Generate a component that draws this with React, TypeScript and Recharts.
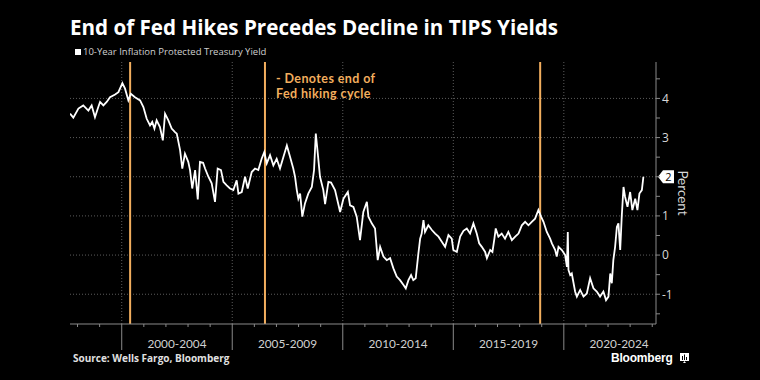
import React from 'react';
import { LineChart, Line, XAxis, YAxis, CartesianGrid, ReferenceLine } from 'recharts';

const years = [
  1997.66, 1997.81, 1998.04, 1998.26, 1998.49, 1998.64, 1998.79, 1998.94, 1999.02, 1999.17,
  1999.32, 1999.47, 1999.70, 1999.85, 2000.03, 2000.15, 2000.30, 2000.41, 2000.60, 2000.83,
  2000.98, 2001.13, 2001.28, 2001.38, 2001.48, 2001.58, 2001.73, 2001.86, 2001.96, 2002.11,
  2002.26, 2002.41, 2002.49, 2002.64, 2002.74, 2002.86, 2003.01, 2003.09, 2003.19, 2003.32,
  2003.44, 2003.54, 2003.68, 2003.77, 2003.92, 2004.07, 2004.22, 2004.34, 2004.49, 2004.60,
  2004.75, 2004.90, 2005.05, 2005.20, 2005.28, 2005.43, 2005.58, 2005.70, 2005.88, 2006.03,
  2006.18, 2006.33, 2006.45, 2006.56, 2006.71, 2006.86, 2007.01, 2007.16, 2007.31, 2007.47,
  2007.62, 2007.76, 2007.84, 2007.92, 2007.99, 2008.07, 2008.17, 2008.29, 2008.44, 2008.60,
  2008.70, 2008.78, 2008.87, 2008.97, 2009.12, 2009.20, 2009.35, 2009.47, 2009.65, 2009.88,
  2010.03, 2010.23, 2010.33, 2010.48, 2010.63, 2010.78, 2010.93, 2011.09, 2011.16, 2011.31,
  2011.46, 2011.58, 2011.69, 2011.84, 2011.99, 2012.14, 2012.29, 2012.44, 2012.59, 2012.74,
  2012.85, 2012.97, 2013.09, 2013.19, 2013.30, 2013.42, 2013.50, 2013.57, 2013.65, 2013.72,
  2013.87, 2014.03, 2014.18, 2014.33, 2014.48, 2014.63, 2014.78, 2014.93, 2015.00, 2015.16,
  2015.31, 2015.46, 2015.61, 2015.76, 2015.91, 2016.06, 2016.17, 2016.29, 2016.44, 2016.52,
  2016.67, 2016.77, 2016.86, 2016.92, 2017.04, 2017.19, 2017.34, 2017.49, 2017.65, 2017.80,
  2017.95, 2018.10, 2018.25, 2018.40, 2018.55, 2018.70, 2018.85, 2018.97, 2019.08, 2019.23,
  2019.38, 2019.46, 2019.61, 2019.68, 2019.76, 2019.91, 2020.06, 2020.14, 2020.18, 2020.21,
  2020.29, 2020.36, 2020.51, 2020.59, 2020.74, 2020.89, 2021.04, 2021.19, 2021.34, 2021.49,
  2021.64, 2021.79, 2021.91, 2022.02, 2022.10, 2022.17, 2022.24, 2022.32, 2022.40, 2022.47,
  2022.55, 2022.62, 2022.70, 2022.77, 2022.88, 2023.00, 2023.10, 2023.23, 2023.33, 2023.42,
  2023.53, 2023.60,
];

const yields = [
  3.61, 3.51, 3.74, 3.82, 3.69, 3.82, 3.52, 3.78, 3.91, 3.82,
  3.91, 4.03, 4.10, 4.16, 4.39, 4.25, 3.95, 4.12, 4.03, 3.95,
  3.78, 3.48, 3.31, 3.40, 3.23, 3.44, 3.27, 2.93, 3.61, 3.44,
  3.23, 3.14, 3.10, 2.68, 2.21, 2.59, 2.38, 2.17, 1.70, 2.17,
  1.42, 2.38, 2.36, 2.21, 2.00, 1.83, 1.36, 2.21, 2.17, 1.87,
  1.78, 1.70, 1.66, 1.91, 1.57, 1.61, 2.00, 1.70, 2.12, 2.21,
  2.17, 2.46, 2.63, 2.34, 2.55, 2.29, 2.46, 2.21, 2.50, 2.80,
  2.50, 2.21, 2.00, 1.66, 1.44, 1.57, 0.98, 1.32, 1.57, 1.74,
  2.17, 3.10, 2.59, 2.00, 1.66, 1.30, 1.87, 1.85, 1.66, 1.10,
  1.44, 1.61, 1.27, 1.23, 0.98, 0.38, 1.10, 1.36, 0.98, 0.81,
  0.68, -0.13, 0.21, -0.04, -0.13, -0.08, -0.34, -0.55, -0.64, -0.76,
  -0.85, -0.64, -0.51, -0.64, -0.59, 0.04, 0.42, 0.55, 0.89, 0.59,
  0.76, 0.64, 0.55, 0.47, 0.34, 0.21, 0.51, 0.42, 0.13, 0.08,
  0.47, 0.62, 0.68, 0.55, 0.81, 0.55, 0.30, 0.21, 0.08, -0.08,
  0.13, 0.08, 0.42, 0.68, 0.47, 0.55, 0.42, 0.59, 0.38, 0.47,
  0.55, 0.76, 0.85, 0.76, 0.85, 0.93, 1.15, 0.98, 0.85, 0.59,
  0.42, 0.30, 0.13, -0.04, 0.21, 0.13, 0.00, -0.30, 0.59, -0.38,
  -0.51, -0.47, -0.93, -1.06, -0.89, -1.06, -0.98, -0.59, -0.85, -0.93,
  -1.06, -0.93, -1.15, -1.06, -0.47, -0.72, -0.13, 0.21, 0.72, 0.81,
  0.13, 0.98, 1.74, 1.49, 1.23, 1.61, 1.15, 1.44, 1.15, 1.57,
  1.66, 2.00,
];

const hikeCycleEnds = [2000.38, 2006.48, 2018.93];
const xDomain = [1997.66, 2024.17];
const yDomain = [-1.76, 4.93];
const yearTicks = [
  1998, 1999, 2000, 2001, 2002, 2003, 2004, 2005, 2006, 2007, 2008, 2009, 2010,
  2011, 2012, 2013, 2014, 2015, 2016, 2017, 2018, 2019, 2020, 2021, 2022, 2023, 2024,
];
const bandStarts = [2000, 2005, 2010, 2015, 2020];
const bandLabels = ['2000-2004', '2005-2009', '2010-2014', '2015-2019', '2020-2024'];
const yTicks = [-1.5, -1, -0.5, 0, 0.5, 1, 1.5, 2, 2.5, 3, 3.5, 4, 4.5];
const yGridValues = [-1, 0, 1, 2, 3, 4];

const data = years.map((y, i) => ({ year: y, value: yields[i] }));
const bandMids = bandStarts.map((b) => b + 2.5);
const xTicks = [...yearTicks, ...bandMids].sort((a, b) => a - b);
const lastValue = yields[yields.length - 1];
const lastRounded = Math.round(lastValue);

const FONT = '"Open Sans", "Liberation Sans", sans-serif';
const LATO = 'Lato, "Open Sans", sans-serif';
const ORANGE = '#f2ae5e';
const AXIS = '#8a8a8a';

const XTick = (props: any) => {
  const { x, y, payload } = props;
  const v = payload.value;
  const midIdx = bandMids.indexOf(v);
  if (midIdx >= 0) {
    return (
      <text x={x} y={y + 23.5} textAnchor="middle" fontSize={11.8} fill="#d0d0d0" fontFamily={LATO}>
        {bandLabels[midIdx]}
      </text>
    );
  }
  const major = bandStarts.includes(v);
  return <line x1={x} x2={x} y1={y} y2={y + (major ? 26 : 3)} stroke={AXIS} strokeWidth={1} />;
};

const YTick = (props: any) => {
  const { x, y, payload } = props;
  const v = payload.value;
  // the value tag covers the tick label at the latest value
  const isLabel = Number.isInteger(v) && v !== lastRounded;
  return (
    <g>
      <line x1={x} x2={x + 4} y1={y} y2={y} stroke={AXIS} strokeWidth={1} />
      {isLabel && (
        <text x={x + 6} y={y} dy="0.36em" fontSize={12} fill="#d8d8d8" fontFamily={FONT}>
          {v}
        </text>
      )}
    </g>
  );
};

const LastTag = (props: any) => {
  const { viewBox } = props;
  const x = viewBox.x + viewBox.width + 2;
  const y = viewBox.y;
  return (
    <g>
      <path d={`M${x} ${y} L${x + 5} ${y - 6.5} H${x + 16} V${y + 6.5} H${x + 5} Z`} fill="#ffffff" />
      <text x={x + 10.5} y={y} dy="0.36em" textAnchor="middle" fontSize={11} fill="#000" fontFamily={FONT}>
        {lastRounded}
      </text>
    </g>
  );
};

export default function App() {
  return (
    <div
      style={{
        position: 'fixed',
        left: 0,
        top: 0,
        width: 760,
        height: 380,
        background: '#000',
        overflow: 'hidden',
        fontFamily: FONT,
      }}
    >
      <LineChart
        width={760}
        height={380}
        data={data}
        margin={{ top: 62, right: 64, bottom: 26, left: 70 }}
      >
        <CartesianGrid
          stroke="#5c5c5c"
          strokeDasharray="1 2"
          horizontalValues={yGridValues}
          verticalValues={bandStarts}
        />
        <XAxis
          dataKey="year"
          type="number"
          domain={xDomain}
          ticks={xTicks}
          interval={0}
          tick={<XTick />}
          tickLine={false}
          tickSize={0}
          tickMargin={0}
          height={30}
          stroke={AXIS}
          allowDataOverflow
        />
        <YAxis
          orientation="right"
          type="number"
          domain={yDomain}
          ticks={yTicks}
          interval={0}
          tick={<YTick />}
          tickLine={false}
          tickSize={0}
          tickMargin={0}
          width={40}
          stroke={AXIS}
          allowDataOverflow
        />
        {hikeCycleEnds.map((h) => (
          <ReferenceLine key={h} x={h} stroke={ORANGE} strokeWidth={2} />
        ))}
        <ReferenceLine y={lastValue} stroke="none" label={<LastTag />} />
        <Line
          type="linear"
          dataKey="value"
          stroke="#ffffff"
          strokeWidth={1.8}
          dot={false}
          isAnimationActive={false}
        />
      </LineChart>

      <div
        style={{
          position: 'absolute',
          left: 70,
          top: 13,
          fontSize: 20.6,
          fontWeight: 700,
          color: '#fff',
          whiteSpace: 'nowrap',
          lineHeight: 1.36,
        }}
      >
        End of Fed Hikes Precedes Decline in TIPS Yields
      </div>
      <div
        style={{
          position: 'absolute',
          left: 75,
          top: 45,
          fontSize: 9.5,
          color: '#d0d0d0',
          whiteSpace: 'nowrap',
          display: 'flex',
          alignItems: 'center',
          lineHeight: '14px',
        }}
      >
        <span style={{ display: 'inline-block', width: 6, height: 6, background: '#fff', marginRight: 2 }} />
        10-Year Inflation Protected Treasury Yield
      </div>
      <div
        style={{
          position: 'absolute',
          left: 276,
          top: 71,
          fontSize: 12.5,
          fontWeight: 700,
          color: ORANGE,
          lineHeight: '15px',
          whiteSpace: 'nowrap',
          fontFamily: LATO,
          letterSpacing: 0.4,
        }}
      >
        - Denotes end of
        <br />
        Fed hiking cycle
      </div>
      <div
        style={{
          position: 'absolute',
          left: 683,
          top: 193,
          fontSize: 13.5,
          color: '#d8d8d8',
          transform: 'translate(-50%, -50%) rotate(90deg)',
          whiteSpace: 'nowrap',
          fontFamily: LATO,
          lineHeight: 1.2,
        }}
      >
        Percent
      </div>
      <div
        style={{
          position: 'absolute',
          left: 73,
          top: 351,
          fontSize: 10,
          fontWeight: 700,
          color: '#e0e0e0',
          whiteSpace: 'nowrap',
        }}
      >
        Source: Wells Fargo, Bloomberg
      </div>
      <div
        style={{
          position: 'absolute',
          left: 611,
          top: 350.5,
          fontSize: 12,
          fontWeight: 700,
          color: '#fff',
          whiteSpace: 'nowrap',
          display: 'flex',
          alignItems: 'center',
          letterSpacing: -0.2,
          fontFamily: '"Liberation Sans", Arial, sans-serif',
        }}
      >
        Bloomberg
        <svg width={9} height={10} style={{ marginLeft: 7 }}>
          <rect x={0} y={0} width={9} height={8} fill="#fff" />
          <path d="M4.5 8 L3 10 L6 10 Z" fill="#fff" />
          <rect x={2} y={3} width={1} height={4} fill="#000" />
          <rect x={4} y={1.5} width={1} height={5.5} fill="#000" />
          <rect x={6} y={4} width={1} height={3} fill="#000" />
        </svg>
      </div>
    </div>
  );
}
